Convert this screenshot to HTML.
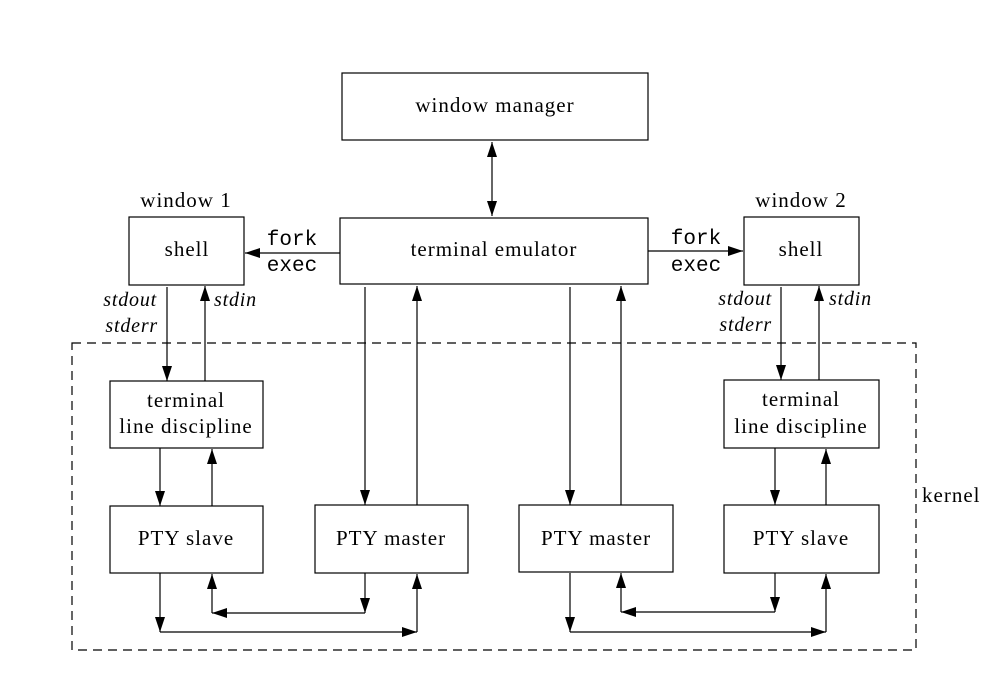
<!DOCTYPE html>
<html><head><meta charset="utf-8"><style>
html,body{margin:0;padding:0;background:#fff}
svg{display:block}
text{font-family:"Liberation Serif",serif;font-size:21px;letter-spacing:1px;fill:#000}
.m{font-family:"Liberation Mono",monospace;font-size:21px;letter-spacing:0}
.i{font-style:italic;font-size:20px;letter-spacing:0.8px}
</style></head><body>
<svg width="1008" height="694" viewBox="0 0 1008 694" xmlns="http://www.w3.org/2000/svg">
<defs>
<marker id="a" markerUnits="userSpaceOnUse" markerWidth="16" markerHeight="12" refX="15" refY="5" orient="auto-start-reverse">
<path d="M0,0 L15,5 L0,10 z" fill="#000"/>
</marker>
</defs>
<g fill="none" stroke="#000" stroke-width="1.2">
<rect x="342" y="73" width="306" height="67"/>
<rect x="340" y="218" width="308" height="66"/>
<rect x="129" y="217" width="115" height="68"/>
<rect x="744" y="217" width="115" height="68"/>
<rect x="110" y="381" width="153" height="67"/>
<rect x="110" y="506" width="153" height="67"/>
<rect x="315" y="505" width="153" height="68"/>
<rect x="724" y="380" width="155" height="68"/>
<rect x="724" y="505" width="155" height="68"/>
<rect x="519" y="505" width="154" height="67"/>
<rect x="72" y="343" width="844" height="307" stroke-dasharray="9,6"/>
</g>
<g stroke="#000" stroke-width="1.2" fill="none" marker-end="url(#a)">
<line x1="492" y1="142" x2="492" y2="216" marker-start="url(#a)"/>
<line x1="340" y1="253" x2="245" y2="253"/>
<line x1="648" y1="251" x2="743" y2="251"/>
<line x1="167" y1="287" x2="167" y2="381"/>
<line x1="205" y1="381" x2="205" y2="286"/>
<line x1="781" y1="287" x2="781" y2="380"/>
<line x1="819" y1="380" x2="819" y2="286"/>
<line x1="160" y1="448" x2="160" y2="506"/>
<line x1="212" y1="506" x2="212" y2="449"/>
<line x1="775" y1="448" x2="775" y2="505"/>
<line x1="826" y1="505" x2="826" y2="449"/>
<line x1="365" y1="287" x2="365" y2="505"/>
<line x1="417" y1="505" x2="417" y2="286"/>
<line x1="570" y1="287" x2="570" y2="505"/>
<line x1="621" y1="505" x2="621" y2="286"/>
<line x1="160" y1="573" x2="160" y2="632"/>
<polyline points="160,632 417,632" />
<line x1="417" y1="632" x2="417" y2="574"/>
<line x1="365" y1="573" x2="365" y2="613"/>
<polyline points="365,613 212,613"/>
<line x1="212" y1="613" x2="212" y2="574"/>
<line x1="570" y1="573" x2="570" y2="632"/>
<polyline points="570,632 826,632"/>
<line x1="826" y1="632" x2="826" y2="574"/>
<line x1="775" y1="573" x2="775" y2="612"/>
<polyline points="775,612 621,612"/>
<line x1="621" y1="612" x2="621" y2="573"/>
</g>
<g text-anchor="middle">
<text x="495" y="112">window manager</text>
<text x="494" y="256">terminal emulator</text>
<text x="186" y="207">window 1</text>
<text x="801" y="207">window 2</text>
<text x="187" y="256">shell</text>
<text x="801" y="256">shell</text>
<text x="186" y="407">terminal</text>
<text x="186" y="433">line discipline</text>
<text x="801" y="406">terminal</text>
<text x="801" y="433">line discipline</text>
<text x="186" y="545">PTY slave</text>
<text x="391" y="545">PTY master</text>
<text x="596" y="545">PTY master</text>
<text x="801" y="545">PTY slave</text>
<text class="m" x="292" y="245">fork</text>
<text class="m" x="292" y="271">exec</text>
<text class="m" x="696" y="244">fork</text>
<text class="m" x="696" y="271">exec</text>
</g>
<g text-anchor="end">
<text class="i" x="157" y="306">stdout</text>
<text class="i" x="158" y="332">stderr</text>
<text class="i" x="772" y="305">stdout</text>
<text class="i" x="772" y="331">stderr</text>
</g>
<text class="i" x="214" y="306">stdin</text>
<text class="i" x="829" y="305">stdin</text>
<text x="922" y="502">kernel</text>
</svg>
</body></html>
